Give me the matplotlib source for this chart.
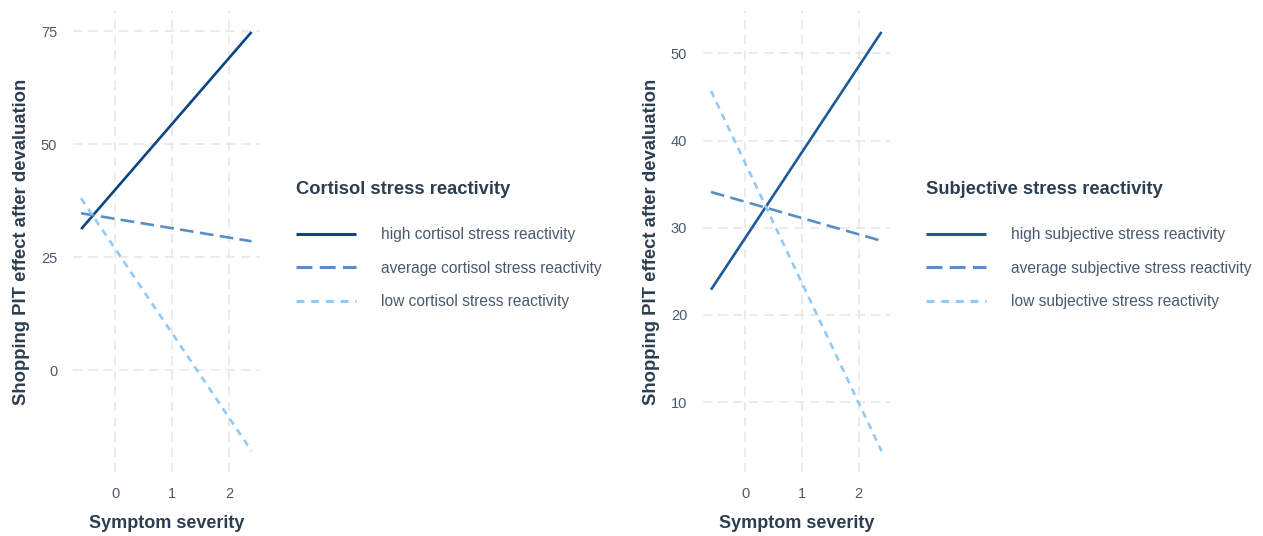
import matplotlib
matplotlib.use("Agg")
import matplotlib.pyplot as plt

plt.rcParams["font.family"] = ["Liberation Sans", "DejaVu Sans"]

# symptom severity at the ends of the simple slopes
severity = [-0.6, 2.4]

# cortisol moderation model
cortisol_high = [31.2, 74.8]
cortisol_avg = [34.7, 28.5]
cortisol_low = [38.0, -17.9]
cortisol_labels = ["high cortisol stress reactivity",
                   "average cortisol stress reactivity",
                   "low cortisol stress reactivity"]

# subjective moderation model
subjective_high = [22.9, 52.45]
subjective_avg = [34.1, 28.5]
subjective_low = [45.7, 4.4]
subjective_labels = ["high subjective stress reactivity",
                     "average subjective stress reactivity",
                     "low subjective stress reactivity"]

cortisol_ticks = [0, 25, 50, 75]
subjective_ticks = [10, 20, 30, 40, 50]
x_ticks = [0, 1, 2]

title_col = "#2C3E50"
tick_col = "#4A5A6E"
grid_col = "#E6E6E6"
avg_col = "#5B8EC4"
low_col = "#90CAF9"

W, H = 1263, 536
fig = plt.figure(figsize=(W / 100, H / 100), dpi=100)


def panel(left_px, high_col, high, avg, low, labels, yticks, leg_title, leg_x):
    ax = fig.add_axes([left_px / W, (H - 472) / H, 187.5 / W, 461 / H])
    lw = 1.9
    ax.plot(severity, high, color=high_col, lw=lw, label=labels[0],
            solid_capstyle="butt")
    ax.plot(severity, avg, color=avg_col, lw=lw, label=labels[1],
            dashes=(5.2, 2.4))
    ax.plot(severity, low, color=low_col, lw=lw, label=labels[2],
            dashes=(2.6, 2.2))
    ax.set_xticks(x_ticks)
    ax.set_yticks(yticks)
    ax.grid(True, color=grid_col, lw=1.1, dashes=(6, 4))
    ax.set_axisbelow(True)
    for s in ax.spines.values():
        s.set_visible(False)
    ax.tick_params(length=0, labelsize=10.5, labelcolor=tick_col)
    ax.tick_params(axis="x", pad=11)
    ax.tick_params(axis="y", pad=11)
    ax.set_xlabel("Symptom severity", fontsize=13, fontweight="bold",
                  color=title_col, labelpad=10)
    ax.set_ylabel("Shopping PIT effect after devaluation", fontsize=13.3,
                  fontweight="bold", color=title_col, labelpad=8)
    leg = ax.legend(loc="upper left",
                    bbox_to_anchor=(leg_x / W, (H - 181) / H),
                    bbox_transform=fig.transFigure, frameon=False,
                    title=leg_title, alignment="left", fontsize=11.2,
                    handlelength=3.85, handletextpad=1.6, labelspacing=1.19,
                    borderaxespad=0, borderpad=0)
    leg.get_title().set_fontweight("bold")
    leg.get_title().set_fontsize(13.2)
    leg.get_title().set_color(title_col)
    leg._legend_box.sep = 21
    for t in leg.get_texts():
        t.set_color(tick_col)
    for h in leg.get_lines():
        h.set_linewidth(2.2)
    return ax


panel(72.6, "#0B4680", cortisol_high, cortisol_avg, cortisol_low,
      cortisol_labels, cortisol_ticks, "Cortisol stress reactivity", 296)
panel(702.5, "#1F5A96", subjective_high, subjective_avg, subjective_low,
      subjective_labels, subjective_ticks, "Subjective stress reactivity", 926)

fig.savefig("out.png", dpi=100, facecolor="white")
